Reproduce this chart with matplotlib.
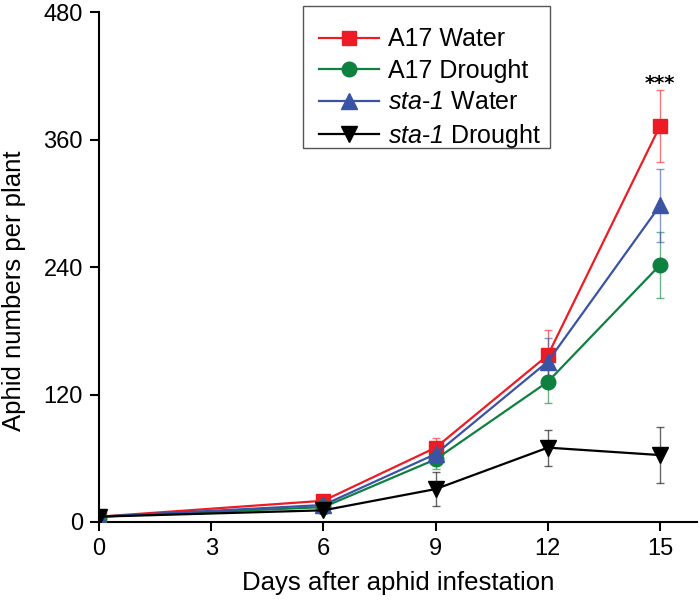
import matplotlib
matplotlib.use("Agg")
import matplotlib.pyplot as plt
from matplotlib.patches import Rectangle

plt.rcParams['font.family'] = ['Liberation Sans', 'DejaVu Sans']
plt.rcParams['mathtext.fontset'] = 'custom'
plt.rcParams['mathtext.rm'] = 'Liberation Sans'
plt.rcParams['mathtext.bf'] = 'Liberation Sans:italic'

days = [0, 6, 9, 12, 15]
a17_water = [5, 20, 70, 157, 373]
a17_water_err = [2, 3, 9, 24, 34]
a17_drought = [5, 14, 59, 132, 242]
a17_drought_err = [2, 3, 9, 20, 31]
sta1_water = [5, 16, 64, 151, 298]
sta1_water_err = [2, 3, 8, 22, 34]
sta1_drought = [5, 11, 31, 70, 63]
sta1_drought_err = [2, 3, 16, 17, 26]

labels = ['A17 Water', 'A17 Drought', r'$\mathbf{sta}$-$\mathbf{1}$ Water',
          r'$\mathbf{sta}$-$\mathbf{1}$ Drought']

fig = plt.figure(figsize=(7, 6.02), dpi=100)
ax = fig.add_axes([0.1414, 0.1329, 0.855, 0.847])

series = [
    (a17_water, a17_water_err, '#ED1C24', 's', 9.5),
    (a17_drought, a17_drought_err, '#0E8040', 'o', 10.5),
    (sta1_water, sta1_water_err, '#3A53A4', '^', 11.5),
    (sta1_drought, sta1_drought_err, '#000000', 'v', 11.5),
]
handles = []
for (vals, err, col, mk, ms), lab in zip(series, labels):
    ax.errorbar(days, vals, yerr=err, fmt='none', ecolor=col, elinewidth=1.0,
                capsize=3, capthick=1.0, alpha=0.6, zorder=2)
    h, = ax.plot(days, vals, color=col, marker=mk, markersize=ms, lw=1.6,
                 label=lab, zorder=3)
    handles.append(h)

ax.set_xlim(0, 16)
ax.set_ylim(0, 480)
ax.set_xticks([0, 3, 6, 9, 12, 15])
ax.set_yticks([0, 120, 240, 360, 480])
ax.spines['top'].set_visible(False)
ax.spines['right'].set_visible(False)
ax.spines['left'].set_linewidth(1.5)
ax.spines['bottom'].set_linewidth(1.5)
ax.tick_params(axis='both', direction='out', length=6.5, width=1.5,
               labelsize=17, pad=5)
ax.set_xlabel('Days after aphid infestation', fontsize=18.5, labelpad=8)
ax.set_ylabel('Aphid numbers per plant', fontsize=18.5)
ax.yaxis.set_label_coords(-0.122, 0.453)

ax.text(15, 404, '***', ha='center', va='bottom', fontsize=14,
        family='DejaVu Sans', fontweight='bold')

leg = ax.legend(handles=handles, loc='upper left', bbox_to_anchor=(0.3495, 0.9922),
                fontsize=18, frameon=False,
                handlelength=2.4, handletextpad=0.35, borderpad=0.45,
                labelspacing=0.3, borderaxespad=0)
fig.patches.append(Rectangle((303 / 700, 1 - 148 / 602), 247 / 700, 142 / 602,
                             transform=fig.transFigure, fill=False,
                             edgecolor='#555555', linewidth=1.0))

fig.savefig('out.png', dpi=100)
